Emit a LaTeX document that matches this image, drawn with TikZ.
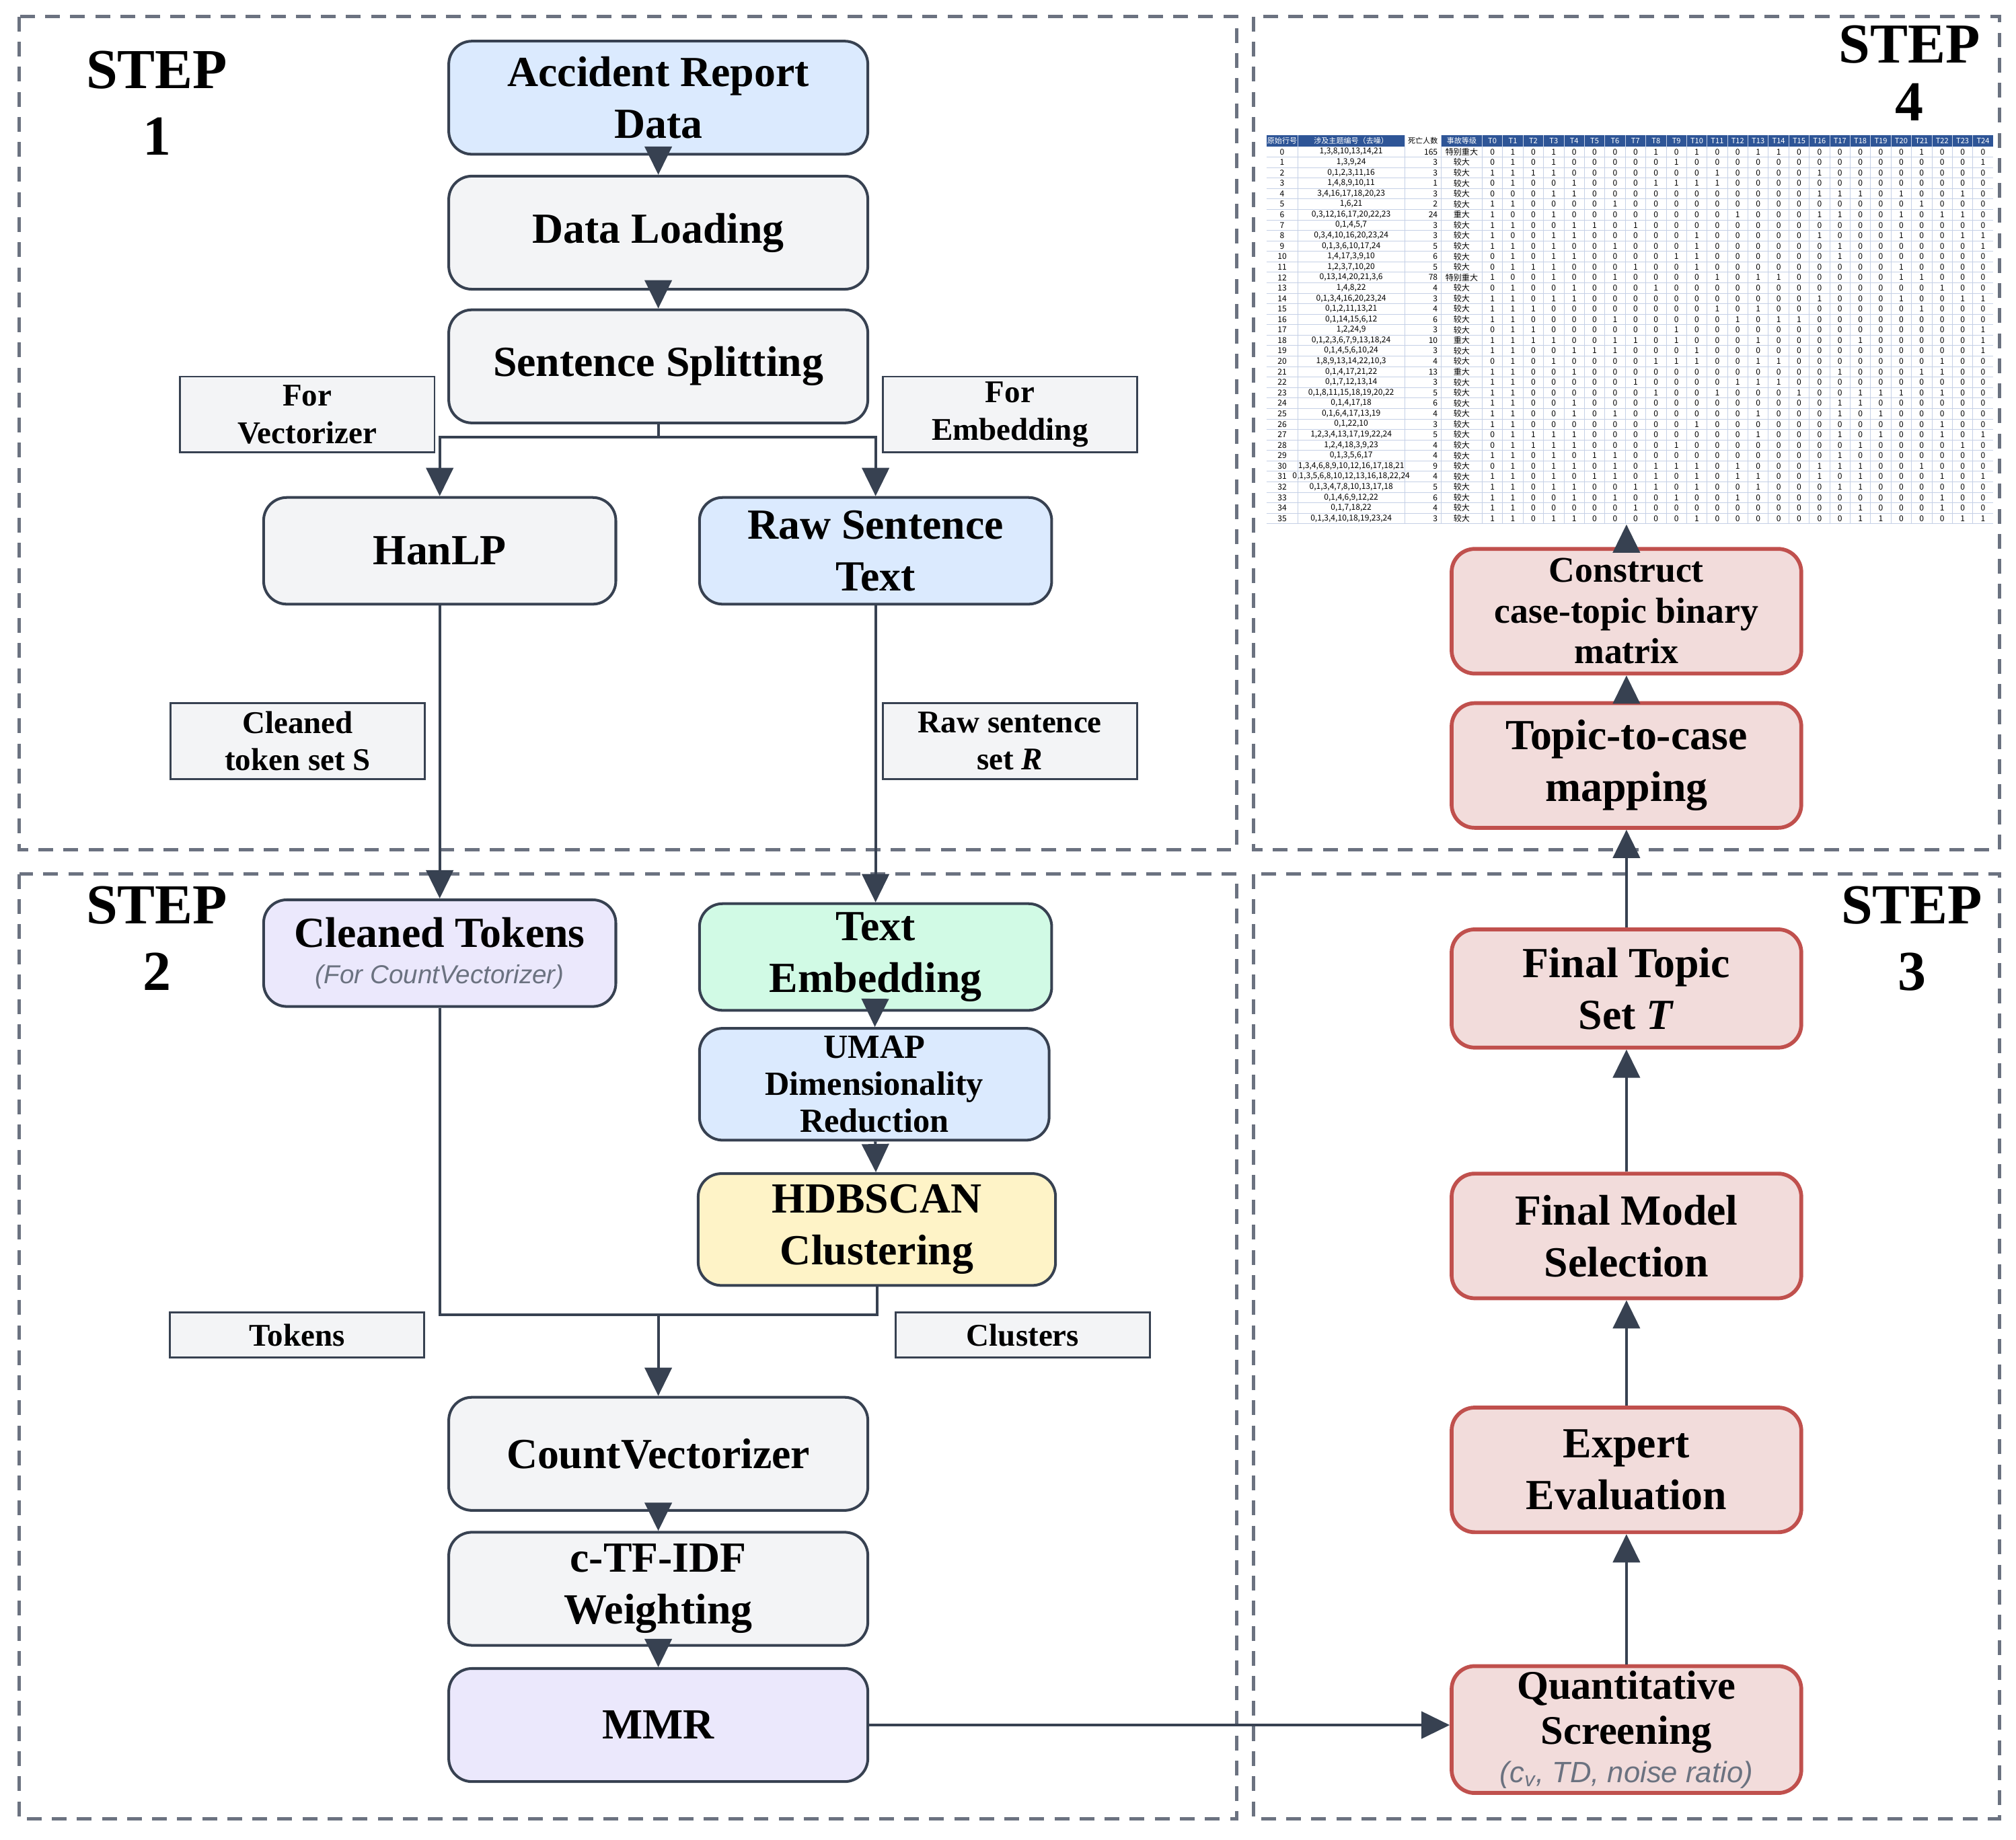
\documentclass[tikz,border=0pt]{standalone}
\usepackage{fontspec}
\setmainfont{Liberation Serif}
\setsansfont{Liberation Sans}
\newfontfamily\cjk{Noto Sans CJK SC}
\usepackage{tikz}
\usetikzlibrary{positioning,arrows.meta}
\usepackage{xcolor}
\definecolor{edge}{HTML}{374151}
\definecolor{dashgray}{HTML}{6B7280}
\definecolor{subgray}{HTML}{6B7280}
\definecolor{graybg}{HTML}{F3F4F6}
\definecolor{bluebg}{HTML}{DBEAFE}
\definecolor{lilacbg}{HTML}{EBE8FC}
\definecolor{mintbg}{HTML}{D1FAE5}
\definecolor{yellowbg}{HTML}{FEF3C7}
\definecolor{redbg}{HTML}{F2DCDB}
\definecolor{redline}{HTML}{C0504D}
\definecolor{hdrblue}{HTML}{2E5597}
\definecolor{gridline}{HTML}{C5D0E6}

\tikzset{
  panel/.style={draw=dashgray, line width=1.5pt, dash pattern=on 0.23cm off 0.16cm},
  steplabel/.style={align=center, inner sep=0pt, font=\fontsize{25}{29.5}\selectfont\bfseries},
  proc/.style={rectangle, rounded corners=0.36cm, draw=edge, line width=1.2pt,
    align=center, inner sep=2pt, font=\fontsize{19}{23}\selectfont\bfseries},
  wide/.style={proc, fill=graybg, minimum width=6.52cm, minimum height=1.76cm},
  narrow/.style={proc, fill=graybg, minimum width=5.48cm, minimum height=1.66cm},
  result/.style={proc, draw=redline, line width=1.7pt, fill=redbg,
    minimum width=5.44cm, minimum height=1.94cm},
  tag/.style={rectangle, draw=edge, line width=0.8pt, fill=graybg, align=center,
    inner sep=1pt, minimum width=3.96cm, minimum height=1.18cm,
    font=\fontsize{14}{16.5}\selectfont\bfseries},
  link/.style={draw=edge, line width=1.2pt},
  flow/.style={link, -{Triangle[length=0.44cm,width=0.42cm]}},
  cell/.style={inner sep=0pt, font=\cjk\fontsize{3.6}{4}\selectfont},
  hcell/.style={cell, text=white, font=\cjk\fontsize{3.3}{4}\selectfont},
  gridrule/.style={draw=gridline, line width=0.25pt}
}

% one row of the case-topic matrix: index, topics, deaths, level, T0..T24
\newcommand{\caserow}[5]{%
  \pgfmathsetmacro{\rowy}{118.075+#1*8.15}
  \node[cell] at (997.2,\rowy) {#1};
  \node[cell] at (1050.9,\rowy) {#2};
  \node[cell, anchor=east] at (1118.5,\rowy) {#3};
  \node[cell] at (1136.85,\rowy) {#4};
  \foreach \bit [count=\col from 0] in {#5} {
    \node[cell] at ({1160.75+15.9*\col},\rowy) {\bit};
  }
  \draw[gridrule] (985,\rowy+4.075) -- (1550.3,\rowy+4.075);
}

\begin{document}
\begin{tikzpicture}[x=0.02cm,y=-0.02cm]
\useasboundingbox (0,0) rectangle (1568,1431);

% dashed step panels
\draw[panel] (15,13) rectangle (962,661);
\draw[panel] (975,13) rectangle (1555,661);
\draw[panel] (15,680) rectangle (962,1415);
\draw[panel] (975,680) rectangle (1555,1415);

\node[steplabel] (step1) at (122,80) {STEP\\1};
\node[steplabel] (step4) at (1485,57) {STEP\\[-4pt]4};
\node[steplabel] (step2) at (122,730) {STEP\\2};
\node[steplabel] (step3) at (1487,730) {STEP\\3};

% STEP 1
\node[wide, fill=bluebg] (acc) at (512,76) {Accident Report\\Data};
\node[wide] (load) at (512,181) {Data Loading};
\node[wide] (split) at (512,285) {Sentence Splitting};
\node[narrow] (hanlp) at (342,428.5) {HanLP};
\node[narrow, fill=bluebg] (raw) at (681,428.5) {Raw Sentence\\Text};

\node[tag] (forvec) at (239,322.5) {For\\Vectorizer};
\node[tag] (foremb) at (785.5,322.5) {For\\Embedding};
\node[tag] (tokset) at (231.5,576.5) {Cleaned\\token set S};
\node[tag] (rawset) at (785.5,576.5) {Raw sentence\\set \textit{R}};

\coordinate (fork) at (512,340);
\draw[flow] (acc) -- (load);
\draw[flow] (load) -- (split);
\draw[link] (split) -- (fork);
\draw[flow] (fork) -| (hanlp);
\draw[flow] (fork) -| (raw);

% STEP 2
\node[narrow, fill=lilacbg] (ctok) at (342,741.5)
  {Cleaned Tokens\\[-7pt]{\mdseries\sffamily\itshape\fontsize{11.5}{13}\selectfont\color{subgray}(For CountVectorizer)}};
\node[narrow, fill=mintbg] (temb) at (681,744.5) {Text\\Embedding};
\node[narrow, fill=bluebg, minimum width=5.44cm, minimum height=1.74cm,
  font=\fontsize{15}{16.5}\selectfont\bfseries] (umap) at (680,843.5)
  {UMAP\\Dimensionality\\Reduction};
\node[narrow, fill=yellowbg, minimum width=5.56cm, minimum height=1.74cm] (hdb) at (682,956.5)
  {HDBSCAN\\Clustering};
\node[wide] (cv) at (512,1131) {CountVectorizer};
\node[wide] (ctfidf) at (512,1236) {c-TF-IDF\\Weighting};
\node[wide, fill=lilacbg] (mmr) at (512,1342) {MMR};

\node[tag, minimum height=0.7cm] (tok) at (231,1038.5) {Tokens};
\node[tag, minimum height=0.7cm] (clu) at (795.5,1038.5) {Clusters};

\draw[flow] (hanlp) -- (ctok);
\draw[flow] (raw) -- (temb);
\draw[flow] (temb) -- (umap);
\draw[flow] (umap) -- (hdb);
\coordinate (merge) at (512,1023);
\draw[link] (ctok) |- (merge);
\draw[link] (hdb) |- (merge);
\draw[flow] (merge) -- (cv);
\draw[flow] (cv) -- (ctfidf);
\draw[flow] (ctfidf) -- (mmr);

% STEP 3
\node[result, minimum height=1.9cm, font=\fontsize{18}{20}\selectfont\bfseries] (qs) at (1265,1345.5)
  {Quantitative\\Screening\\[-3pt]{\mdseries\sffamily\itshape\fontsize{13}{14}\selectfont\color{subgray}(c\textsubscript{v}, TD, noise ratio)}};
\node[result] (expert) at (1265,1143.5) {Expert\\Evaluation};
\node[result] (fms) at (1265,961.5) {Final Model\\Selection};
\node[result, minimum height=1.84cm] (fts) at (1265,769) {Final Topic\\Set \textit{T}};

\draw[flow] (mmr.east) -- (mmr.east -| qs.west);
\draw[flow] (qs) -- (expert);
\draw[flow] (expert) -- (fms);
\draw[flow] (fms) -- (fts);

% STEP 4
\node[result] (t2c) at (1265,595.5) {Topic-to-case\\mapping};
\node[result, font=\fontsize{16}{18}\selectfont\bfseries] (cons) at (1265,475.5)
  {Construct\\case-topic binary\\matrix};
\coordinate (tbl) at (1265,408);
\draw[flow] (fts) -- (t2c);
\draw[flow] (t2c) -- (cons);
\draw[flow] (cons) -- (tbl);

% case-topic matrix
\fill[hdrblue] (985,105) rectangle (1550.3,114);
\fill[white] (1092.4,105) rectangle (1120.9,114);
\node[hcell] at (997.2,109.5) {原始行号};
\node[hcell] at (1050.9,109.5) {涉及主题编号（去噪）};
\node[hcell, text=black] at (1106.65,109.5) {死亡人数};
\node[hcell] at (1136.85,109.5) {事故等级};
\foreach \col in {0,...,24} {
  \node[hcell] at ({1160.75+15.9*\col},109.5) {T\col};
}
\caserow{0}{1,3,8,10,13,14,21}{165}{特别重大}{0,1,0,1,0,0,0,0,1,0,1,0,0,1,1,0,0,0,0,0,0,1,0,0,0}
\caserow{1}{1,3,9,24}{3}{较大}{0,1,0,1,0,0,0,0,0,1,0,0,0,0,0,0,0,0,0,0,0,0,0,0,1}
\caserow{2}{0,1,2,3,11,16}{3}{较大}{1,1,1,1,0,0,0,0,0,0,0,1,0,0,0,0,1,0,0,0,0,0,0,0,0}
\caserow{3}{1,4,8,9,10,11}{1}{较大}{0,1,0,0,1,0,0,0,1,1,1,1,0,0,0,0,0,0,0,0,0,0,0,0,0}
\caserow{4}{3,4,16,17,18,20,23}{3}{较大}{0,0,0,1,1,0,0,0,0,0,0,0,0,0,0,0,1,1,1,0,1,0,0,1,0}
\caserow{5}{1,6,21}{2}{较大}{1,1,0,0,0,0,1,0,0,0,0,0,0,0,0,0,0,0,0,0,0,1,0,0,0}
\caserow{6}{0,3,12,16,17,20,22,23}{24}{重大}{1,0,0,1,0,0,0,0,0,0,0,0,1,0,0,0,1,1,0,0,1,0,1,1,0}
\caserow{7}{0,1,4,5,7}{3}{较大}{1,1,0,0,1,1,0,1,0,0,0,0,0,0,0,0,0,0,0,0,0,0,0,0,0}
\caserow{8}{0,3,4,10,16,20,23,24}{3}{较大}{1,0,0,1,1,0,0,0,0,0,1,0,0,0,0,0,1,0,0,0,1,0,0,1,1}
\caserow{9}{0,1,3,6,10,17,24}{5}{较大}{1,1,0,1,0,0,1,0,0,0,1,0,0,0,0,0,0,1,0,0,0,0,0,0,1}
\caserow{10}{1,4,17,3,9,10}{6}{较大}{0,1,0,1,1,0,0,0,0,1,1,0,0,0,0,0,0,1,0,0,0,0,0,0,0}
\caserow{11}{1,2,3,7,10,20}{5}{较大}{0,1,1,1,0,0,0,1,0,0,1,0,0,0,0,0,0,0,0,0,1,0,0,0,0}
\caserow{12}{0,13,14,20,21,3,6}{78}{特别重大}{1,0,0,1,0,0,1,0,0,0,0,1,0,1,1,0,0,0,0,0,1,1,0,0,0}
\caserow{13}{1,4,8,22}{4}{较大}{0,1,0,0,1,0,0,0,1,0,0,0,0,0,0,0,0,0,0,0,0,0,1,0,0}
\caserow{14}{0,1,3,4,16,20,23,24}{3}{较大}{1,1,0,1,1,0,0,0,0,0,0,0,0,0,0,0,1,0,0,0,1,0,0,1,1}
\caserow{15}{0,1,2,11,13,21}{4}{较大}{1,1,1,0,0,0,0,0,0,0,0,1,0,1,0,0,0,0,0,0,0,1,0,0,0}
\caserow{16}{0,1,14,15,6,12}{6}{较大}{1,1,0,0,0,0,1,0,0,0,0,0,1,0,1,1,0,0,0,0,0,0,0,0,0}
\caserow{17}{1,2,24,9}{3}{较大}{0,1,1,0,0,0,0,0,0,1,0,0,0,0,0,0,0,0,0,0,0,0,0,0,1}
\caserow{18}{0,1,2,3,6,7,9,13,18,24}{10}{重大}{1,1,1,1,0,0,1,1,0,1,0,0,0,1,0,0,0,0,1,0,0,0,0,0,1}
\caserow{19}{0,1,4,5,6,10,24}{3}{较大}{1,1,0,0,1,1,1,0,0,0,1,0,0,0,0,0,0,0,0,0,0,0,0,0,1}
\caserow{20}{1,8,9,13,14,22,10,3}{4}{较大}{0,1,0,1,0,0,0,0,1,1,1,0,0,1,1,0,0,0,0,0,0,0,1,0,0}
\caserow{21}{0,1,4,17,21,22}{13}{重大}{1,1,0,0,1,0,0,0,0,0,0,0,0,0,0,0,0,1,0,0,0,1,1,0,0}
\caserow{22}{0,1,7,12,13,14}{3}{较大}{1,1,0,0,0,0,0,1,0,0,0,0,1,1,1,0,0,0,0,0,0,0,0,0,0}
\caserow{23}{0,1,8,11,15,18,19,20,22}{5}{较大}{1,1,0,0,0,0,0,0,1,0,0,1,0,0,0,1,0,0,1,1,1,0,1,0,0}
\caserow{24}{0,1,4,17,18}{6}{较大}{1,1,0,0,1,0,0,0,0,0,0,0,0,0,0,0,0,1,1,0,0,0,0,0,0}
\caserow{25}{0,1,6,4,17,13,19}{4}{较大}{1,1,0,0,1,0,1,0,0,0,0,0,0,1,0,0,0,1,0,1,0,0,0,0,0}
\caserow{26}{0,1,22,10}{3}{较大}{1,1,0,0,0,0,0,0,0,0,1,0,0,0,0,0,0,0,0,0,0,0,1,0,0}
\caserow{27}{1,2,3,4,13,17,19,22,24}{5}{较大}{0,1,1,1,1,0,0,0,0,0,0,0,0,1,0,0,0,1,0,1,0,0,1,0,1}
\caserow{28}{1,2,4,18,3,9,23}{4}{较大}{0,1,1,1,1,0,0,0,0,1,0,0,0,0,0,0,0,0,1,0,0,0,0,1,0}
\caserow{29}{0,1,3,5,6,17}{4}{较大}{1,1,0,1,0,1,1,0,0,0,0,0,0,0,0,0,0,1,0,0,0,0,0,0,0}
\caserow{30}{1,3,4,6,8,9,10,12,16,17,18,21}{9}{较大}{0,1,0,1,1,0,1,0,1,1,1,0,1,0,0,0,1,1,1,0,0,1,0,0,0}
\caserow{31}{0,1,3,5,6,8,10,12,13,16,18,22,24}{4}{较大}{1,1,0,1,0,1,1,0,1,0,1,0,1,1,0,0,1,0,1,0,0,0,1,0,1}
\caserow{32}{0,1,3,4,7,8,10,13,17,18}{5}{较大}{1,1,0,1,1,0,0,1,1,0,1,0,0,1,0,0,0,1,1,0,0,0,0,0,0}
\caserow{33}{0,1,4,6,9,12,22}{6}{较大}{1,1,0,0,1,0,1,0,0,1,0,0,1,0,0,0,0,0,0,0,0,0,1,0,0}
\caserow{34}{0,1,7,18,22}{4}{较大}{1,1,0,0,0,0,0,1,0,0,0,0,0,0,0,0,0,0,1,0,0,0,1,0,0}
\caserow{35}{0,1,3,4,10,18,19,23,24}{3}{较大}{1,1,0,1,1,0,0,0,0,0,1,0,0,0,0,0,0,0,1,1,0,0,0,1,1}
\foreach \vx in {1009.4,1092.4,1120.9,1152.8} {
  \draw[gridrule] (\vx,105) -- (\vx,407.4);
}
\foreach \col in {1,...,24} {
  \draw[gridrule] ({1152.8+15.9*\col},105) -- ({1152.8+15.9*\col},407.4);
}
\end{tikzpicture}
\end{document}
